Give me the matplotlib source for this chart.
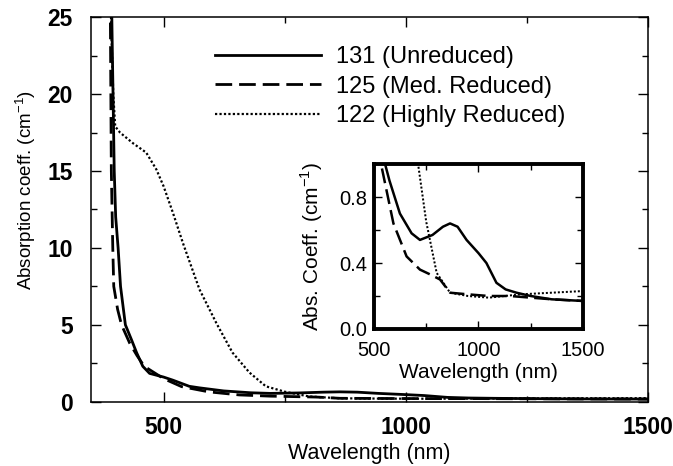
import matplotlib
matplotlib.use("Agg")
import matplotlib.pyplot as plt
from matplotlib.ticker import MultipleLocator

plt.rcParams["font.family"] = ["Liberation Sans", "DejaVu Sans"]
plt.rcParams["mathtext.fontset"] = "custom"
plt.rcParams["mathtext.rm"] = "Liberation Sans"

# sample 131 (unreduced)
wl_131 = [388, 393, 398, 401, 406, 411, 421, 434, 444, 457, 471, 500, 519, 553, 574,
          624, 680, 720, 780, 830, 864, 900, 943, 1000, 1038, 1086, 1130, 1182, 1250,
          1350, 1500]
ab_131 = [30, 25, 15, 12, 10, 7.5, 5.0, 4.0, 3.2, 2.3, 1.84, 1.6, 1.4, 1.0, 0.9,
          0.70, 0.58, 0.54, 0.57, 0.62, 0.64, 0.62, 0.54, 0.46, 0.40, 0.28, 0.24, 0.22,
          0.20, 0.18, 0.17]

# sample 125 (med. reduced)
wl_125 = [385, 390, 392, 395, 397, 405, 413, 430, 445, 460, 500, 537, 593, 656, 720,
          770, 816, 864, 950, 1050, 1150, 1250, 1350, 1500]
ab_125 = [30, 25, 15, 10, 7.5, 6.0, 5.0, 3.8, 3.0, 2.3, 1.5, 0.98, 0.64, 0.44, 0.36,
          0.33, 0.30, 0.22, 0.21, 0.20, 0.20, 0.19, 0.18, 0.17]

# sample 122 (highly reduced)
wl_122 = [388, 392, 396, 400, 410, 437, 464, 485, 500, 519, 540, 574, 609, 642, 677,
          711, 750, 800, 864, 950, 1050, 1200, 1350, 1500]
ab_122 = [30, 24, 20, 17.9, 17.5, 16.8, 16.2, 15.1, 14.0, 12.3, 10.3, 7.3, 5.1, 3.2,
          1.9, 1.0, 0.65, 0.34, 0.22, 0.20, 0.19, 0.21, 0.22, 0.23]

labels = ["131 (Unreduced)", "125 (Med. Reduced)", "122 (Highly Reduced)"]


def draw_curves(ax, lw):
    ax.plot(wl_131, ab_131, color="black", lw=lw, ls="-", label=labels[0])
    ax.plot(wl_125, ab_125, color="black", lw=lw, ls=(0, (6, 2.5)), label=labels[1])
    ax.plot(wl_122, ab_122, color="black", lw=lw * 0.8, ls=(0, (1, 1)), label=labels[2])


fig = plt.figure(figsize=(6.73, 4.66), dpi=100)

ax = fig.add_axes([0.1352, 0.138, 0.8276, 0.825])
draw_curves(ax, 2.0)
ax.set_xlim(350, 1500)
ax.set_ylim(0, 25)
ax.xaxis.set_major_locator(MultipleLocator(500))
ax.xaxis.set_minor_locator(MultipleLocator(250))
ax.yaxis.set_major_locator(MultipleLocator(5))
ax.yaxis.set_minor_locator(MultipleLocator(2.5))
ax.tick_params(which="both", direction="in", top=True, right=True, width=1.0)
ax.tick_params(which="major", length=7, labelsize=16.5)
ax.tick_params(axis="y", which="major", pad=13)
ax.tick_params(axis="x", which="major", pad=10)
ax.tick_params(which="minor", length=4)
for lab in ax.get_xticklabels() + ax.get_yticklabels():
    lab.set_fontweight("bold")
for s in ax.spines.values():
    s.set_linewidth(1.1)
ax.set_xlabel("Wavelength (nm)", fontsize=15.5, labelpad=3)
ax.set_ylabel(r"Absorption coeff. (cm$^{\mathregular{-1}}$)", fontsize=13.5)
ax.yaxis.set_label_coords(-0.095, 0.55)

leg = ax.legend(loc="upper left", bbox_to_anchor=(0.222, 0.925), frameon=False,
                fontsize=17, handlelength=4.5, handletextpad=0.65, labelspacing=0.32,
                borderaxespad=0, borderpad=0)

ins = fig.add_axes([0.5557, 0.294, 0.3105, 0.354])
draw_curves(ins, 1.8)
ins.set_xlim(500, 1500)
ins.set_ylim(0, 1.0)
ins.xaxis.set_major_locator(MultipleLocator(500))
ins.xaxis.set_minor_locator(MultipleLocator(250))
ins.yaxis.set_major_locator(MultipleLocator(0.4))
ins.yaxis.set_minor_locator(MultipleLocator(0.2))
ins.tick_params(which="both", direction="in", top=True, right=True, width=1.0)
ins.tick_params(which="major", length=6, labelsize=14.5)
ins.tick_params(axis="x", which="major", pad=9)
ins.tick_params(axis="y", which="major", pad=5)
ins.tick_params(which="minor", length=4)
ins.yaxis.set_major_formatter(plt.FormatStrFormatter("%.1f"))
for s in ins.spines.values():
    s.set_linewidth(2.8)
ins.set_xlabel("Wavelength (nm)", fontsize=15, labelpad=2)
ins.set_ylabel(r"Abs. Coeff. (cm$^{\mathregular{-1}}$)", fontsize=15, labelpad=10)

fig.savefig("out.png", dpi=100)
